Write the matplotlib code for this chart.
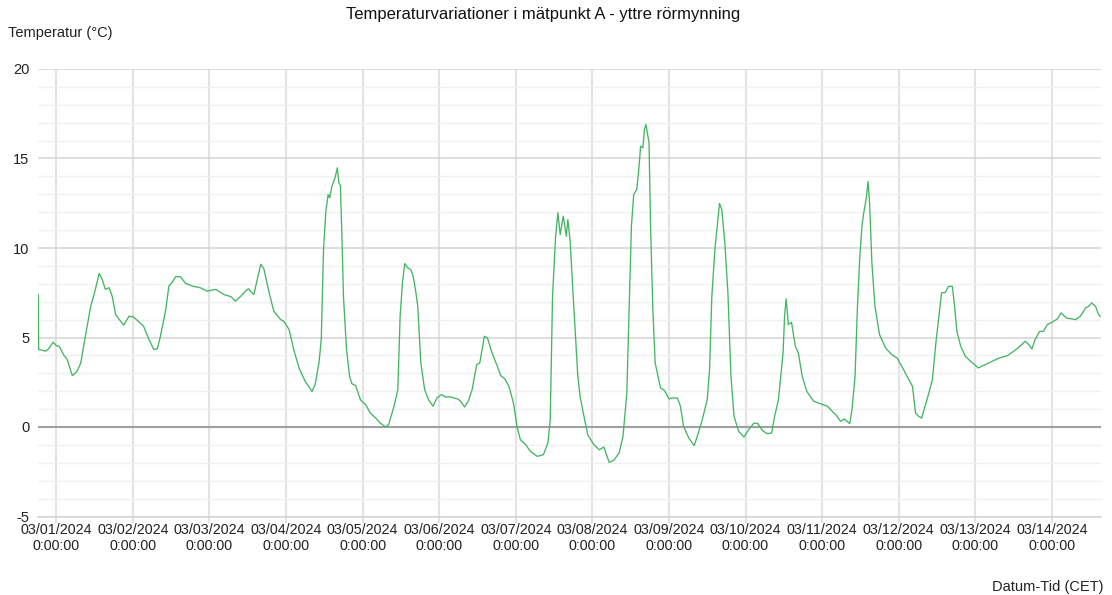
import matplotlib
matplotlib.use("Agg")
import matplotlib.pyplot as plt
import numpy as np
import pandas as pd

plt.rcParams['font.family'] = ['Liberation Sans', 'DejaVu Sans']
plt.rcParams['axes.unicode_minus'] = False

title = "Temperaturvariationer i mätpunkt A - yttre rörmynning"
y_label = "Temperatur (°C)"
x_label = "Datum-Tid (CET)"
start_date = "2024-03-01"
tick_dates = pd.date_range("2024-03-01", "2024-03-14", freq="D")
y_ticks = [-5, 0, 5, 10, 15, 20]

# time offset in days from 03/01/2024 00:00
days = [-0.245, -0.235, -0.23, -0.14, -0.10, -0.04, 0.0, 0.04, 0.10, 0.14, 0.21, 0.27, 0.32,
        0.38, 0.45, 0.50, 0.56, 0.60, 0.64, 0.69, 0.73, 0.775, 0.84, 0.88, 0.95, 1.01, 1.07,
        1.14, 1.21, 1.275, 1.32, 1.36, 1.43, 1.47, 1.51, 1.56, 1.62, 1.69, 1.78, 1.88, 1.97,
        2.08, 2.19, 2.28, 2.34, 2.41, 2.47, 2.51, 2.58, 2.62, 2.67, 2.71, 2.78, 2.84, 2.93,
        2.97, 3.04, 3.10, 3.17, 3.25, 3.34, 3.38, 3.43, 3.46, 3.49, 3.52, 3.55, 3.57, 3.60,
        3.64, 3.67, 3.69, 3.71, 3.73, 3.75, 3.79, 3.83, 3.86, 3.91, 3.97, 4.04, 4.10, 4.17,
        4.23, 4.30, 4.34, 4.41, 4.46, 4.49, 4.52, 4.55, 4.59, 4.63, 4.66, 4.69, 4.72, 4.76,
        4.81, 4.86, 4.92, 4.97, 5.03, 5.08, 5.15, 5.24, 5.28, 5.33, 5.38, 5.43, 5.49, 5.53,
        5.56, 5.59, 5.63, 5.69, 5.76, 5.80, 5.86, 5.91, 5.97, 6.02, 6.06, 6.13, 6.19, 6.28,
        6.36, 6.42, 6.45, 6.48, 6.52, 6.55, 6.58, 6.62, 6.66, 6.68, 6.71, 6.74, 6.78, 6.81,
        6.84, 6.89, 6.94, 7.02, 7.09, 7.15, 7.22, 7.28, 7.35, 7.40, 7.45, 7.48, 7.51, 7.54,
        7.58, 7.61, 7.63, 7.66, 7.68, 7.70, 7.74, 7.76, 7.79, 7.82, 7.89, 7.94, 8.00, 8.04,
        8.11, 8.15, 8.19, 8.26, 8.33, 8.37, 8.43, 8.50, 8.53, 8.56, 8.60, 8.63, 8.66, 8.69,
        8.73, 8.77, 8.81, 8.85, 8.91, 8.98, 9.04, 9.11, 9.16, 9.22, 9.28, 9.34, 9.38, 9.43,
        9.49, 9.51, 9.53, 9.56, 9.60, 9.65, 9.69, 9.74, 9.80, 9.89, 9.98, 10.07, 10.16,
        10.18, 10.24, 10.29, 10.36, 10.39, 10.43, 10.46, 10.49, 10.52, 10.54, 10.58, 10.60,
        10.62, 10.65, 10.69, 10.75, 10.83, 10.91, 10.98, 11.04, 11.11, 11.18, 11.22, 11.26,
        11.30, 11.37, 11.44, 11.49, 11.56, 11.61, 11.65, 11.70, 11.73, 11.76, 11.81, 11.87,
        11.94, 12.04, 12.13, 12.22, 12.31, 12.42, 12.53, 12.59, 12.65, 12.70, 12.74, 12.78,
        12.84, 12.89, 12.94, 13.00, 13.07, 13.12, 13.19, 13.31, 13.37, 13.44, 13.48, 13.52,
        13.57, 13.61, 13.63]
temps = [7.4, 7.4, 4.33, 4.24, 4.37, 4.74, 4.55, 4.5, 4.0, 3.8, 2.87, 3.1, 3.58,
         5.07, 6.75, 7.5, 8.58, 8.25, 7.69, 7.78, 7.31, 6.29, 5.91, 5.69, 6.19, 6.14, 5.91,
         5.63, 4.89, 4.33, 4.37, 5.07, 6.57, 7.87, 8.06, 8.4, 8.4, 8.02, 7.87, 7.78, 7.59,
         7.69, 7.4, 7.28, 7.03, 7.31, 7.59, 7.72, 7.4, 8.15, 9.09, 8.84, 7.5, 6.47, 6.0,
         5.91, 5.45, 4.33, 3.3, 2.55, 1.99, 2.37, 3.58, 4.88, 9.92, 12.06, 12.99, 12.8, 13.46,
         13.92, 14.48, 13.64, 13.5, 10.66, 7.3, 4.32, 2.83, 2.42, 2.31, 1.53, 1.25, 0.78, 0.5,
         0.22, 0.0, 0.13, 1.16, 2.09, 6.19, 8.05, 9.13, 8.89, 8.8, 8.42, 7.68, 6.75, 3.58,
         2.09, 1.53, 1.16, 1.62, 1.81, 1.68, 1.68, 1.57, 1.44, 1.12, 1.44, 2.09, 3.49, 3.58,
         4.32, 5.07, 4.98, 4.14, 3.39, 2.89, 2.68, 2.27, 1.34, -0.06, -0.71, -0.99, -1.36, -1.64,
         -1.55, -0.89, 0.41, 7.3, 10.66, 11.97, 10.75, 11.78, 10.66, 11.59, 10.38, 8.05, 5.07, 2.83,
         1.71, 0.6, -0.43, -0.99, -1.27, -1.12, -1.98, -1.86, -1.45, -0.52, 1.9, 6.56, 11.22, 12.99,
         13.27, 14.58, 15.69, 15.6, 16.63, 16.9, 15.88, 11.22, 6.56, 3.58, 2.18, 2.05, 1.57, 1.62,
         1.62, 1.16, 0.04, -0.62, -1.04, -0.52, 0.32, 1.53, 3.2, 7.3, 9.92, 11.22, 12.49, 12.15,
         10.29, 7.49, 2.83, 0.6, -0.24, -0.56, -0.15, 0.22, 0.19, -0.19, -0.37, -0.34, 0.6, 1.53,
         4.14, 6.19, 7.16, 5.72, 5.85, 4.51, 4.14, 2.83, 1.99, 1.44, 1.3, 1.16, 0.75,
         0.69, 0.32, 0.45, 0.19, 0.97, 2.83, 6.55, 9.35, 11.21, 11.86, 12.89, 13.72,
         12.51, 9.16, 6.74, 5.16, 4.41, 4.04, 3.85, 3.39, 2.83, 2.27, 0.78, 0.6,
         0.5, 1.53, 2.64, 4.88, 7.49, 7.52, 7.86, 7.86, 6.74, 5.34, 4.51, 3.95,
         3.67, 3.3, 3.48, 3.67, 3.85, 3.99, 4.32, 4.54, 4.79, 4.6, 4.36, 4.88,
         5.34, 5.34, 5.72, 5.85, 6.03, 6.37, 6.09, 6.0, 6.18, 6.65, 6.74, 6.93,
         6.74, 6.28, 6.18]

base = pd.Timestamp(start_date)
times = base + pd.to_timedelta(np.array(days), unit="D")

fig = plt.figure(figsize=(11.12, 5.95), dpi=100)
ax = fig.add_axes([37.5 / 1112, 1 - 516.5 / 595, (1100.5 - 37.5) / 1112, (516.5 - 69) / 595])
ax.set_axisbelow(True)

ax.plot(times, temps, color="#45b564", linewidth=0.95, zorder=3)

ax.set_xlim(base + pd.Timedelta(days=-0.245), base + pd.Timedelta(days=13.635))
ax.set_ylim(-5, 20)

ax.set_yticks(y_ticks)
ax.set_yticks(np.arange(-5, 21, 1), minor=True)
ax.set_xticks(tick_dates)
ax.set_xticklabels([d.strftime("%m/%d/%Y") + "\n0:00:00" for d in tick_dates], linespacing=1.1)

ax.grid(True, which="major", axis="x", color="#e3e3e3", linewidth=1.5)
ax.grid(True, which="major", axis="y", color="#d4d4d4", linewidth=1.1)
ax.grid(True, which="minor", axis="y", color="#f0f0f0", linewidth=1.0)
ax.axhline(0, color="#a0a0a0", linewidth=1.5, zorder=2)

for s in ["top", "right", "left"]:
    ax.spines[s].set_visible(False)
ax.spines["bottom"].set_color("#d4d4d4")
ax.spines["bottom"].set_linewidth(1.1)

ax.tick_params(axis="y", which="both", length=0, pad=6, labelsize=10.5, labelcolor="#222222")
ax.tick_params(axis="x", which="major", length=4, color="#e3e3e3", width=1.5, pad=1,
               labelsize=10.3, labelcolor="#222222")
ax.tick_params(axis="x", which="minor", length=0)

fig.text(543 / 1112, 1 - 15 / 595, title, ha="center", va="center", fontsize=12, color="#111111")
fig.text(8 / 1112, 1 - 33 / 595, y_label, ha="left", va="center", fontsize=10.5, color="#222222")
fig.text(1104 / 1112, 1 - 587 / 595, x_label, ha="right", va="center", fontsize=10.5, color="#222222")

fig.savefig("out.png", dpi=100, facecolor="white")
